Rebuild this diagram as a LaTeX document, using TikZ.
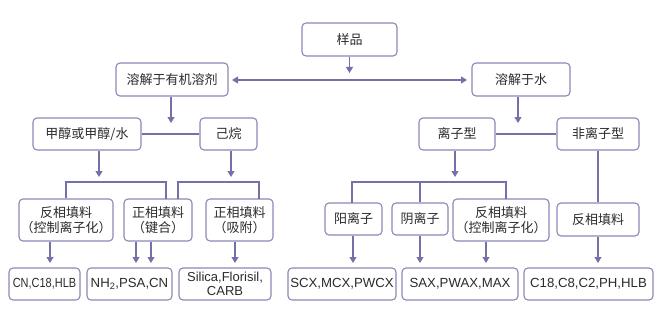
\documentclass[tikz,border=0pt]{standalone}
\usepackage{fontspec}
\setmainfont{Liberation Sans}
\newfontfamily\cjk{Noto Sans CJK SC}
\usetikzlibrary{arrows.meta}
\definecolor{boxc}{HTML}{8A88B8}
\definecolor{linec}{HTML}{7471A9}
\definecolor{txtc}{HTML}{2B2B2B}
\begin{document}
\begin{tikzpicture}[x=1pt,y=-1pt,
  bx/.style={draw=boxc,line width=1.1pt,rounded corners=4pt,fill=white,text=txtc,inner sep=0pt,align=center,font=\fontsize{13}{15}\selectfont\cjk},
  lat/.style={bx,font=\fontsize{13.2}{15}\selectfont},
  ln/.style={draw=linec,line width=1.1pt},
  ar/.style={ln,-{Triangle[width=7pt,length=6pt]}},
  dar/.style={ln,{Triangle[width=7pt,length=6pt]}-{Triangle[width=7pt,length=6pt]}}]
\useasboundingbox (0,0) rectangle (663,318);
% row 1
\node[bx,minimum width=95pt,minimum height=33pt] (s) at (349.5,39.5) {样品};
% row 2
\node[bx,minimum width=112pt,minimum height=33pt] (org) at (172,79.5) {溶解于有机溶剂};
\node[bx,minimum width=98pt,minimum height=33pt] (wat) at (521,79.5) {溶解于水};
% row 3
\node[bx,minimum width=108pt,minimum height=32pt] (me) at (87,134) {甲醇或甲醇/水};
\node[bx,minimum width=57pt,minimum height=32pt] (hex) at (228.5,134) {己烷};
\node[bx,minimum width=76pt,minimum height=32pt] (ion) at (457,134) {离子型};
\node[bx,minimum width=82pt,minimum height=32pt] (non) at (598,134) {非离子型};
% row 4
\node[bx,minimum width=94pt,minimum height=42pt] (A) at (66,220) {反相填料\\（控制离子化）};
\node[bx,minimum width=68pt,minimum height=42pt] (B) at (158,220) {正相填料\\（键合）};
\node[bx,minimum width=67pt,minimum height=42pt] (C) at (239.5,220) {正相填料\\（吸附）};
\node[bx,minimum width=57pt,minimum height=32pt] (D) at (353.5,219) {阳离子};
\node[bx,minimum width=56pt,minimum height=32pt] (E) at (420,219) {阴离子};
\node[bx,minimum width=96pt,minimum height=42pt] (F) at (501,220) {反相填料\\（控制离子化）};
\node[bx,minimum width=82pt,minimum height=33pt] (G) at (598,219.5) {反相填料};
% row 5
\node[lat,minimum width=71pt,minimum height=32pt] (r1) at (44.5,284) {\scalebox{0.83}[1]{CN,C18,HLB}};
\node[lat,minimum width=85pt,minimum height=32pt] (r2) at (129.5,284) {NH\textsubscript{2},PSA,CN};
\node[lat,minimum width=92pt,minimum height=32pt,font=\fontsize{13}{13.5}\selectfont] (r3) at (225,284) {Silica,Florisil,\\CARB};
\node[lat,minimum width=108pt,minimum height=32pt] (r4) at (342,284) {SCX,MCX,PWCX};
\node[lat,minimum width=116pt,minimum height=32pt] (r5) at (460,284) {SAX,PWAX,MAX};
\node[lat,minimum width=129pt,minimum height=32pt] (r6) at (588.5,284) {C18,C8,C2,PH,HLB};
% coordinates
\coordinate (t0) at (349.5,73);
\coordinate (hl) at (232,80);
\coordinate (hr) at (467,80);
\coordinate (t1) at (171,123);
\coordinate (t2) at (518,123);
\coordinate (t3) at (99,177);
\coordinate (t4) at (231,177);
\coordinate (t5) at (455,177);
% level 1
\draw[ar] (s.south) -- (t0);
\draw[dar] (hl) -- (hr);
% level 2
\draw[ar] (org.south -| t1) -- (t1);
\draw[ar] (wat.south -| t2) -- (t2);
\draw[ln] (me.east) -- (hex.west);
\draw[ln] (ion.east) -- (non.west);
% level 3
\draw[ar] (me.south -| t3) -- (t3);
\draw[ar] (hex.south -| t4) -- (t4);
\draw[ar] (ion.south -| t5) -- (t5);
\draw[ln] (A.north) -- (66,182) -- (166,182) -- (166,199);
\draw[ln] (178,199) -- (178,182) -- (259,182) -- (259,199);
\draw[ln] (352,203) -- (352,182) -- (506,182) -- (506,199);
\draw[ln] (420,182) -- (E.north);
\draw[ln] (non.south) -- (G.north);
% level 4
\coordinate (a1) at (50,263);
\coordinate (a2) at (136,263);
\coordinate (a3) at (151,263);
\coordinate (a4) at (235,263);
\coordinate (a5) at (353,263);
\coordinate (a6) at (420,263);
\coordinate (a7) at (486,263);
\coordinate (a8) at (598,263);
\draw[ar] (A.south -| a1) -- (a1);
\draw[ar] (B.south -| a2) -- (a2);
\draw[ar] (B.south -| a3) -- (a3);
\draw[ar] (C.south -| a4) -- (a4);
\draw[ar] (D.south -| a5) -- (a5);
\draw[ar] (E.south -| a6) -- (a6);
\draw[ar] (F.south -| a7) -- (a7);
\draw[ar] (G.south -| a8) -- (a8);
\end{tikzpicture}
\end{document}
